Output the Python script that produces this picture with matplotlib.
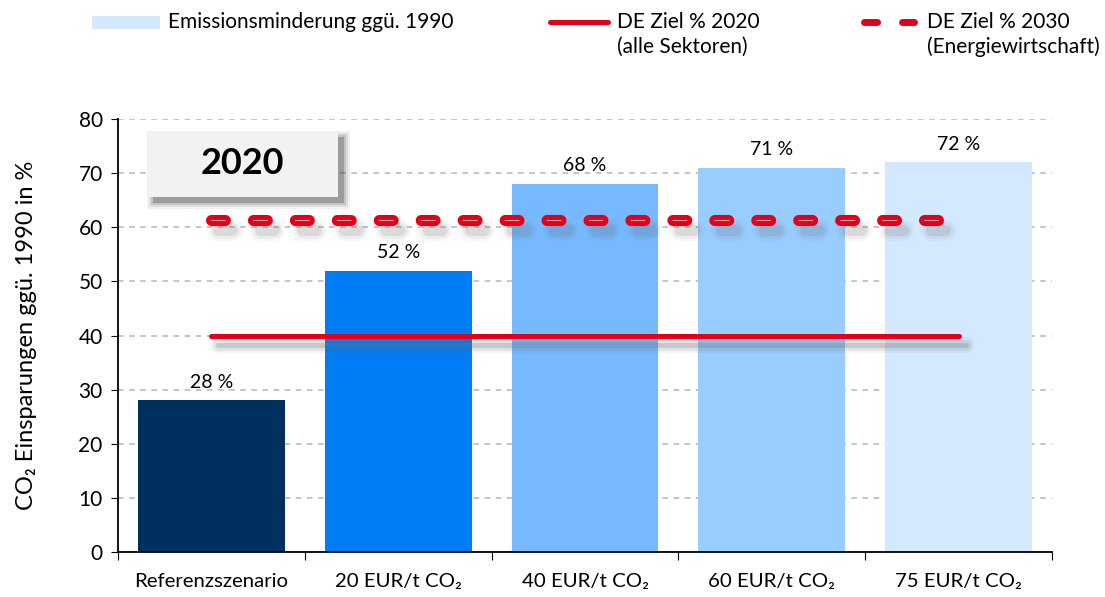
import matplotlib as mpl
import matplotlib.pyplot as plt
import matplotlib.patheffects as pe
from matplotlib.lines import Line2D
from matplotlib.patches import Rectangle

# ----------------------------------
# データ
categories = ['Referenzszenario', '20 EUR/t CO₂', '40 EUR/t CO₂', '60 EUR/t CO₂', '75 EUR/t CO₂']
values = [28, 52, 68, 71, 72]
bar_labels = ['28 %', '52 %', '68 %', '71 %', '72 %']
ziel_2020 = 40
ziel_2030 = 61.3
panel_title = '2020'
ylabel = 'CO₂ Einsparungen ggü. 1990 in %'
legend_labels = ['Emissionsminderung ggü. 1990', 'DE Ziel % 2020\n(alle Sektoren)',
                 'DE Ziel % 2030\n(Energiewirtschaft)']

# ----------------------------------
# スタイル
bar_colors = ['#00305e', '#007cf4', '#76b9ff', '#99ccff', '#d3e9ff']
red = '#e30018'
grid_color = '#c0c0c0'
font = ['Lato', 'DejaVu Sans']
plt.rcParams['font.family'] = font
plt.rcParams['font.size'] = 14
plt.rcParams['lines.scale_dashes'] = False

W, H = 1105, 597
fig = plt.figure(figsize=(W / 100, H / 100), dpi=100)
ax = fig.add_axes([118 / W, 1 - 552 / H, (1052 - 118) / W, (552 - 119) / H])

x = list(range(len(categories)))
ax.bar(x, values, width=0.785, color=bar_colors, zorder=2)
for xi, v, lab in zip(x, values, bar_labels):
    ax.text(xi, v + 1.8, lab, ha='center', va='bottom', fontsize=14)

# 影付きの線（ぼかし風に重ねる）
def shadow(lw, a=1.0):
    return [pe.SimpleLineShadow(offset=(5, -7), shadow_color='#707070', alpha=0.06 * a, linewidth=lw + 8),
            pe.SimpleLineShadow(offset=(5, -7), shadow_color='#707070', alpha=0.10 * a, linewidth=lw + 4),
            pe.SimpleLineShadow(offset=(5, -7), shadow_color='#707070', alpha=0.18 * a, linewidth=lw)]

ax.plot([x[0], x[-1]], [ziel_2020, ziel_2020], color=red, lw=3.6, solid_capstyle='round',
        zorder=4, path_effects=shadow(3.6, 1.3) + [pe.Normal()])
dash = (0, (10, 20.2))
ax.plot([x[0], x[-1] - 0.05], [ziel_2030, ziel_2030], color=red, lw=8, linestyle=dash,
        dash_capstyle='round', zorder=4,
        path_effects=shadow(8, 0.8) + [pe.Normal(), pe.Stroke(linewidth=0.8, foreground='#f4a0a8')])

ax.set_xlim(-0.5, len(categories) - 0.5)
ax.set_ylim(0, 80)
ax.set_yticks(range(0, 81, 10))
ax.set_xticks([i - 0.5 for i in range(len(categories) + 1)])
ax.set_xticklabels([])
ax.set_xticks(x, minor=True)
ax.set_xticklabels(categories, minor=True)
ax.tick_params(axis='x', which='minor', length=0, pad=15, labelsize=14.7)
ax.tick_params(axis='x', which='major', length=6, direction='out', color='black')
ax.tick_params(axis='y', length=5, direction='out', labelsize=15, pad=6)
ax.yaxis.grid(True, color=grid_color, linestyle=(0, (4, 4)), lw=1.3, zorder=0)
ax.set_axisbelow(True)
for s in ['top', 'right']:
    ax.spines[s].set_visible(False)
for s in ['left', 'bottom']:
    ax.spines[s].set_linewidth(1.3)
ax.set_ylabel(ylabel, fontsize=17, labelpad=30)

# ピクセル座標 -> figure座標
def fx(px):
    return px / W

def fy(py):
    return 1 - py / H

# タイトルボックス（ぼかし影）
bx0, bx1, by0, by1 = 147, 338, 131, 197
for grow, a in [(6, 0.07), (4, 0.10), (2, 0.16), (0, 0.30)]:
    fig.add_artist(Rectangle((fx(bx0 + 6 - grow), fy(by1 + 6 + grow)),
                             (bx1 - bx0 + 2 * grow) / W, (by1 - by0 + 2 * grow) / H,
                             transform=fig.transFigure, facecolor='#404040', alpha=a,
                             edgecolor='none', zorder=5))
fig.add_artist(Rectangle((fx(bx0), fy(by1)), (bx1 - bx0) / W, (by1 - by0) / H,
                         transform=fig.transFigure, facecolor='#f2f2f2', edgecolor='none', zorder=6))
fig.text(fx((bx0 + bx1) / 2), fy((by0 + by1) / 2), panel_title, ha='center', va='center',
         fontsize=26, fontweight='bold', zorder=7)

# 凡例（手動配置）
fs_leg = 15
fig.add_artist(Rectangle((fx(92), fy(29)), fx(160) - fx(92), 13 / H, transform=fig.transFigure,
                         facecolor=bar_colors[-1], edgecolor='none'))
fig.text(fx(168), fy(22), legend_labels[0], va='center', ha='left', fontsize=fs_leg)
fig.add_artist(Line2D([fx(550), fx(608)], [fy(22), fy(22)], transform=fig.transFigure,
                      color=red, lw=3.6, solid_capstyle='round'))
fig.add_artist(Line2D([fx(863.5), fx(914.5)], [fy(22), fy(22)], transform=fig.transFigure,
                      color=red, lw=5, linestyle=(0, (9.4, 18)), dash_capstyle='round'))
for x0, lab in [(617, legend_labels[1]), (927, legend_labels[2])]:
    for k, line in enumerate(lab.split('\n')):
        fig.text(fx(x0), fy(22 + 25 * k), line, va='center', ha='left', fontsize=fs_leg)

fig.savefig('out.png', dpi=100)
